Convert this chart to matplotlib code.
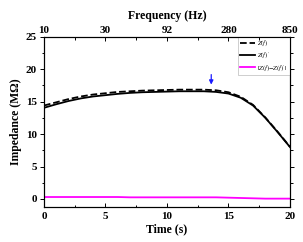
import numpy as np
import matplotlib
matplotlib.use("Agg")
from matplotlib import pyplot as plt
from matplotlib.ticker import MultipleLocator

plt.rcParams['font.family'] = ['Liberation Serif', 'DejaVu Serif']
plt.rcParams['mathtext.fontset'] = 'stix'

# time axis (s)
t = [0, 1, 2, 3, 4, 5, 6, 7, 8, 9, 10, 11, 12, 13, 14, 15, 16, 17, 18, 19, 20]
# impedance Z(f) (MOhm), dashed
z = [14.4, 14.9, 15.4, 15.8, 16.1, 16.3, 16.5, 16.6, 16.7, 16.75, 16.8,
     16.85, 16.85, 16.85, 16.75, 16.45, 15.75, 14.5, 12.55, 10.35, 8.05]
# impedance Z(f)' (MOhm), solid
zp = [14.05, 14.6, 15.1, 15.5, 15.8, 16.0, 16.2, 16.35, 16.45, 16.5, 16.55,
      16.6, 16.6, 16.6, 16.5, 16.25, 15.6, 14.4, 12.5, 10.3, 8.0]
# |Z(f) - Z(f)'|
dz = [0.3, 0.3, 0.3, 0.3, 0.3, 0.3, 0.3, 0.25, 0.25, 0.25, 0.25,
      0.25, 0.25, 0.25, 0.25, 0.2, 0.15, 0.1, 0.05, 0.05, 0.05]

freq_labels = ['10', '30', '92', '280', '850']
freq_pos = [0, 5, 10, 15, 20]

fig = plt.figure(figsize=(3.03, 2.42), dpi=100)
ax = fig.add_axes([0.145, 0.143, 0.812, 0.705])

ax.plot(t, z, 'k--', lw=1.3, label='$Z(f)$')
ax.plot(t, zp, 'k-', lw=1.3, label="$Z(f)'$")
ax.plot(t, dz, '-', color='#ff00ff', lw=1.3, label="$|Z(f){-}Z(f)'|$")

ax.annotate('', xy=(13.6, 17.2), xytext=(13.6, 19.6),
            arrowprops=dict(arrowstyle='-|>', color='#1a1aff', lw=0.9,
                            mutation_scale=6))

ax.set_xlim(0, 20)
ax.set_ylim(-1.3, 25)
ax.xaxis.set_major_locator(MultipleLocator(5))
ax.xaxis.set_minor_locator(MultipleLocator(2.5))
ax.yaxis.set_major_locator(MultipleLocator(5))
ax.yaxis.set_minor_locator(MultipleLocator(2.5))
ax.tick_params(which='both', labelsize=8, width=0.7, pad=2)
ax.tick_params(axis='y', which='both', direction='out')
ax.tick_params(axis='x', which='both', direction='in', pad=3)
ax.tick_params(which='major', length=3)
ax.tick_params(which='minor', length=1.8)
ax.tick_params(axis='y', which='both', right=True)
for lab in ax.get_xticklabels() + ax.get_yticklabels():
    lab.set_fontweight('bold')
ax.set_xlabel('Time (s)', fontsize=8.5, fontweight='bold', labelpad=2)
ax.set_ylabel('Impedance (M\u03a9)', fontsize=8.5, fontweight='bold', labelpad=3)

top = ax.twiny()
top.set_xlim(ax.get_xlim())
top.set_xticks(freq_pos)
top.set_xticklabels(freq_labels, fontweight='bold')
top.xaxis.set_minor_locator(MultipleLocator(2.5))
top.tick_params(which='both', direction='in', labelsize=8, width=0.7, pad=1)
top.tick_params(which='major', length=3)
top.tick_params(which='minor', length=1.8)
top.set_xlabel('Frequency (Hz)', fontsize=8.5, fontweight='bold', labelpad=5)

for a in (ax, top):
    for s in a.spines.values():
        s.set_linewidth(0.8)

leg = ax.legend(loc='upper right', fontsize=4.8, frameon=True, fancybox=False,
                edgecolor='#aaaaaa', handlelength=2.2, borderpad=0.3,
                labelspacing=0.35, borderaxespad=0.0, handletextpad=0.4)
leg.get_frame().set_linewidth(0.5)

fig.savefig('out.png', dpi=100)
